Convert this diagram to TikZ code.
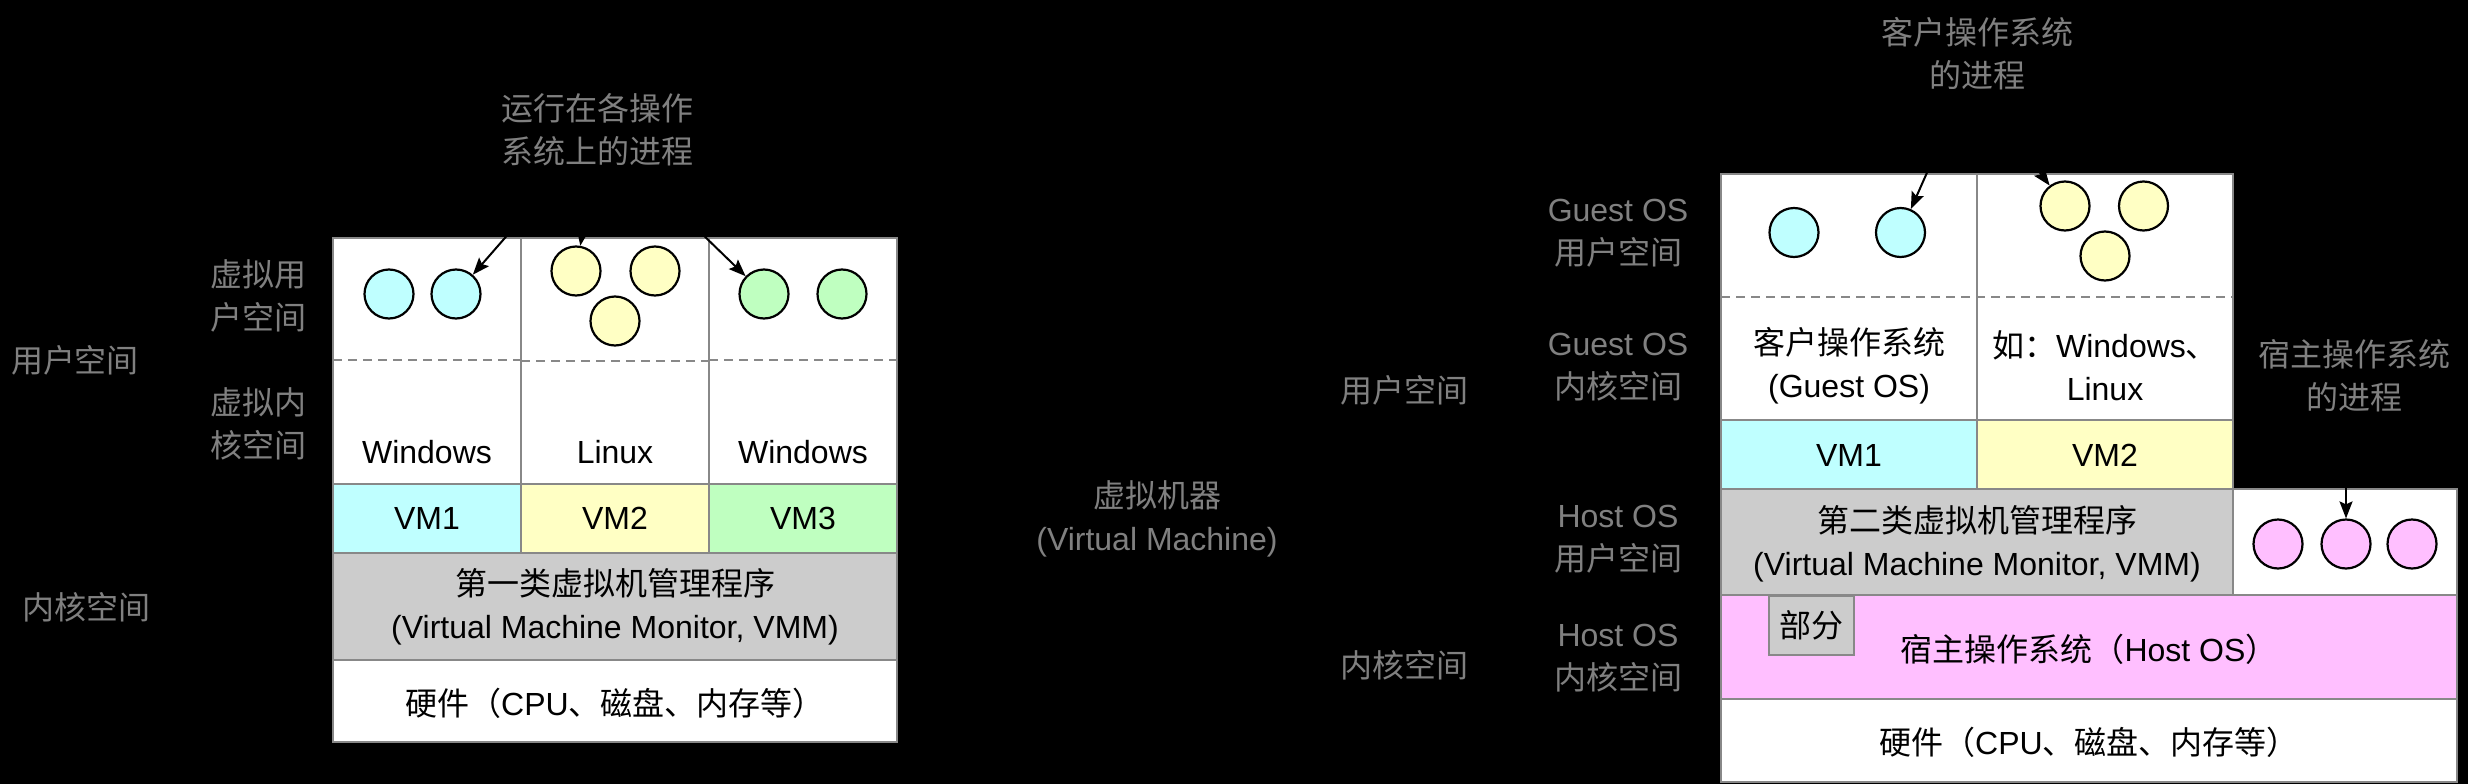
\documentclass[tikz,border=0pt]{standalone}
\usepackage{fontspec}
\setmainfont{Liberation Sans}
\newfontfamily\cjk{Noto Sans CJK SC}
\usetikzlibrary{arrows.meta}
\definecolor{bordergray}{HTML}{888888}
\definecolor{labelgray}{HTML}{808080}
\definecolor{cyanf}{HTML}{BFFFFF}
\definecolor{yellowf}{HTML}{FFFFC4}
\definecolor{greenf}{HTML}{BFFFC0}
\definecolor{pinkf}{HTML}{FFBFFF}
\definecolor{vmmgray}{HTML}{CCCCCC}
\tikzset{
  cell/.style={draw=bordergray, line width=2pt},
  txt/.style={font=\fontsize{32}{43}\selectfont, align=center, text=black, inner sep=0pt},
  ctxt/.style={font=\cjk\fontsize{32}{43}\selectfont, align=center, text=black, inner sep=0pt},
  lbl/.style={font=\cjk\fontsize{32}{43}\selectfont, align=center, text=labelgray, inner sep=0pt},
  proc/.style={circle, draw=black, line width=2.2pt, minimum size=49pt, inner sep=0pt},
  arr/.style={-{Stealth[length=17pt,width=13pt,inset=3pt]}, line width=2pt, draw=black},
  sep/.style={draw=bordergray, line width=2pt, dash pattern=on 9pt off 6pt}
}
\begin{document}
\begin{tikzpicture}[x=1pt,y=-1pt]
\fill[black] (0,0) rectangle (2468,784);
\useasboundingbox (0,0) rectangle (2468,784);

% ================= LEFT: type 1 =================
\filldraw[cell, fill=white] (333,238) rectangle (521,484);
\filldraw[cell, fill=white] (521,238) rectangle (709,484);
\filldraw[cell, fill=white] (709,238) rectangle (897,484);
\draw[sep] (333,360) -- (521,360);
\draw[sep] (521,361) -- (709,361);
\draw[sep] (709,360) -- (897,360);
\filldraw[cell, fill=cyanf] (333,484) rectangle (521,553);
\filldraw[cell, fill=yellowf] (521,484) rectangle (709,553);
\filldraw[cell, fill=greenf] (709,484) rectangle (897,553);
\filldraw[cell, fill=vmmgray] (333,553) rectangle (897,659.5);
\filldraw[cell, fill=white] (333,659.5) rectangle (897,742);

\node[proc, fill=cyanf] (lc1) at (389,294) {};
\node[proc, fill=cyanf] (lc2) at (456,294) {};
\node[proc, fill=yellowf] (ly1) at (576,271) {};
\node[proc, fill=yellowf] (ly2) at (655,271) {};
\node[proc, fill=yellowf] (ly3) at (615,321) {};
\node[proc, fill=greenf] (lg1) at (764,294) {};
\node[proc, fill=greenf] (lg2) at (842,294) {};

\node[txt] (los1) at (427,452) {Windows};
\node[txt] (los2) at (615,452) {Linux};
\node[txt] (los3) at (803,452) {Windows};
\node[txt] (lvm1) at (427,518.5) {VM1};
\node[txt] (lvm2) at (615,518.5) {VM2};
\node[txt] (lvm3) at (803,518.5) {VM3};
\node[txt] (lvmm) at (615,607) {{\cjk 第一类虚拟机管理程序}\\(Virtual Machine Monitor, VMM)};
\node[txt] (lhw) at (615,703) {{\cjk 硬件（}CPU{\cjk 、磁盘、内存等）}};

\node[lbl] (lproc) at (597,130) {运行在各操作\\系统上的进程};
\node[lbl] (lvus) at (258,295.5) {虚拟用\\户空间};
\node[lbl] (lvks) at (258,424) {虚拟内\\核空间};
\node[lbl] (lus) at (75,360) {用户空间};
\node[lbl] (lks) at (87,607) {内核空间};

\coordinate (la1) at (538,200);
\coordinate (la2) at (588,200);
\coordinate (la3) at (667,200);
\draw[arr] (la1) -- (lc2);
\draw[arr] (la2) -- (ly1);
\draw[arr] (la3) -- (lg1);

% ================= MIDDLE =================
\node[lbl] (mid) at (1157,519) {虚拟机器\\{\fontspec{Liberation Sans}(Virtual Machine)}};

% ================= RIGHT: type 2 =================
\filldraw[cell, fill=white] (1721,174) rectangle (1977,420);
\filldraw[cell, fill=white] (1977,174) rectangle (2233,420);
\draw[sep] (1721,296.5) -- (2233,296.5);
\filldraw[cell, fill=cyanf] (1721,420) rectangle (1977,489);
\filldraw[cell, fill=yellowf] (1977,420) rectangle (2233,489);
\filldraw[cell, fill=vmmgray] (1721,489) rectangle (2233,595);
\filldraw[cell, fill=white] (2233,489) rectangle (2457,595);
\filldraw[cell, fill=pinkf] (1721,595) rectangle (2457,699);
\filldraw[cell, fill=vmmgray] (1769,596) rectangle (1854,655);
\filldraw[cell, fill=white] (1721,699) rectangle (2457,781.5);

\node[proc, fill=cyanf] (rc1) at (1794,232.5) {};
\node[proc, fill=cyanf] (rc2) at (1900.5,232.5) {};
\node[proc, fill=yellowf] (ry1) at (2065,206) {};
\node[proc, fill=yellowf] (ry2) at (2143.5,206) {};
\node[proc, fill=yellowf] (ry3) at (2105,256) {};
\node[proc, fill=pinkf] (rp1) at (2278,544) {};
\node[proc, fill=pinkf] (rp2) at (2346,544) {};
\node[proc, fill=pinkf] (rp3) at (2412,544) {};

\node[txt] (rgos) at (1849,366) {{\cjk 客户操作系统}\\(Guest OS)};
\node[txt] (rex) at (2105,366) {{\cjk 如：}Windows{\cjk 、}\\Linux};
\node[txt] (rvm1) at (1849,455) {VM1};
\node[txt] (rvm2) at (2105,455) {VM2};
\node[txt] (rvmm) at (1977,544) {{\cjk 第二类虚拟机管理程序}\\(Virtual Machine Monitor, VMM)};
\node[ctxt] (rpart) at (1811.5,625) {部分};
\node[txt] (rhost) at (2089,649) {{\cjk 宿主操作系统（}Host OS{\cjk ）}};
\node[txt] (rhw) at (2089,742.5) {{\cjk 硬件（}CPU{\cjk 、磁盘、内存等）}};

\node[lbl] (rgproc) at (1977,54) {客户操作系统\\的进程};
\node[lbl] (rhproc) at (2354,375.5) {宿主操作系统\\的进程};
\node[lbl] (rgus) at (1618,233) {{\fontspec{Liberation Sans}Guest OS}\\用户空间};
\node[lbl] (rgks) at (1618,367) {{\fontspec{Liberation Sans}Guest OS}\\内核空间};
\node[lbl] (rhus) at (1618,539) {{\fontspec{Liberation Sans}Host OS}\\用户空间};
\node[lbl] (rhks) at (1618,658) {{\fontspec{Liberation Sans}Host OS}\\内核空间};
\node[lbl] (rus) at (1404,390) {用户空间};
\node[lbl] (rks) at (1404,665) {内核空间};

\coordinate (ra1) at (1937,150);
\coordinate (ra2) at (2023,150);
\coordinate (ra3) at (2346,440);
\draw[arr] (ra1) -- (rc2);
\draw[arr] (ra2) -- (ry1);
\draw[arr] (ra3) -- (rp2);
\end{tikzpicture}
\end{document}
